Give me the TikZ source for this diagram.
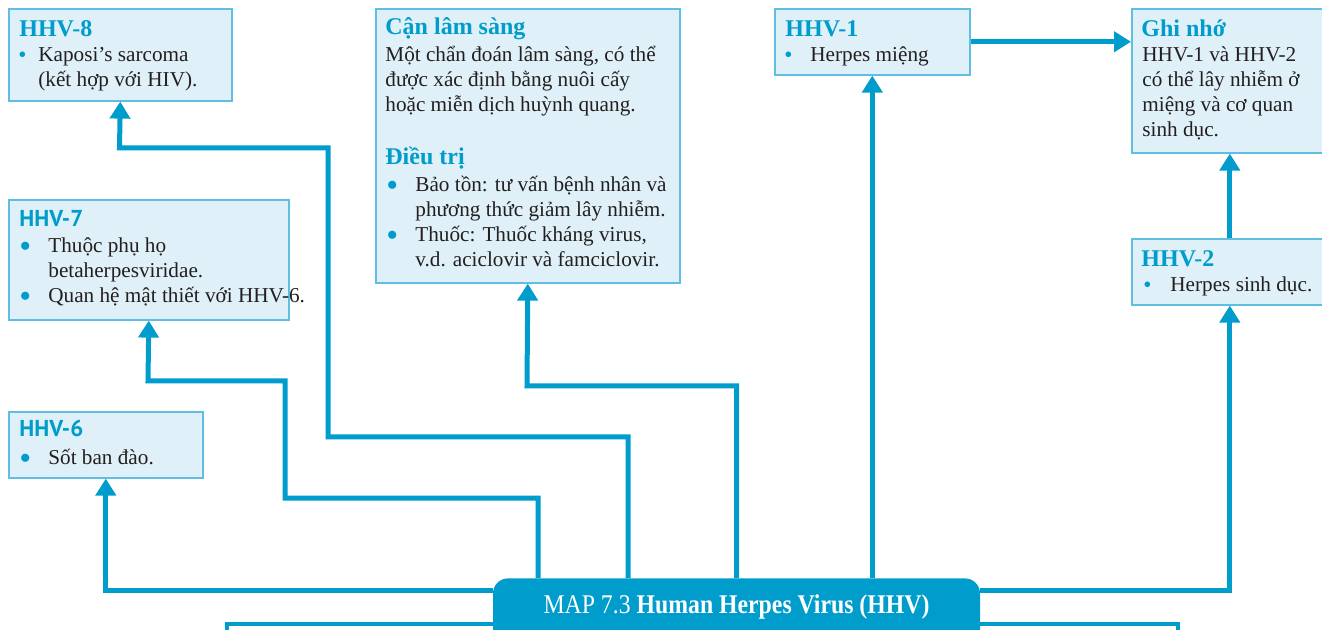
\documentclass[tikz,border=0pt]{standalone}
\usepackage{fontspec}
\setmainfont{Liberation Serif}
\newfontfamily\hhvsans{PT Sans}
\usetikzlibrary{arrows.meta,calc}
\definecolor{hhvblue}{RGB}{0,157,204}
\definecolor{hhvfill}{RGB}{223,240,248}
\definecolor{hhvedge}{RGB}{95,190,225}
\definecolor{hhvink}{RGB}{35,31,32}
\newcommand{\bul}[1]{\llap{\makebox[0pt]{\raisebox{-2.2pt}{\scalebox{1.6}{\textcolor{hhvblue}{•}}}}\hspace{#1}}}
\newcommand{\sbul}[1]{\llap{\makebox[0pt]{\raisebox{-0.3pt}{\scalebox{1.1}{\textcolor{hhvblue}{•}}}}\hspace{#1}}}

\begin{document}
\begin{tikzpicture}[x=0.5pt,y=-0.5pt,
  box/.style={draw=hhvedge,fill=hhvfill,line width=0.8pt,anchor=north west,inner sep=0pt},
  ttl/.style={anchor=base west,inner sep=0pt,text=hhvblue,font=\fontsize{12}{14}\selectfont\bfseries},
  sttl/.style={ttl,font=\fontsize{11.5}{14}\selectfont\hhvsans\bfseries},
  txt/.style={anchor=base west,inner sep=0pt,align=left,text=hhvink,font=\fontsize{10.6}{12.5}\selectfont},
  banner/.style={anchor=north,fill=hhvblue,rounded corners=7.5pt,minimum width=243.5pt,minimum height=34pt,
    text height=9pt,text depth=8pt,text=white,font=\fontsize{13.5}{15}\selectfont},
  panel/.style={draw=hhvblue,line width=2pt,anchor=north west,inner sep=0pt},
  link/.style={draw=hhvblue,line width=2.5pt,-{Triangle[length=8.5pt,width=10pt]}}]
  \useasboundingbox (0,0) rectangle (1322,630);
  \clip (0,0) rectangle (1322,630);

  \node[box,minimum width=111.5pt,minimum height=46pt] (hhv8) at (8,8) {};
  \node[ttl] (hhv8t) at (19,37) {HHV-8};
  \node[txt] (hhv8b) at (38,87) {\sbul{8pt}Kaposi’s sarcoma\\(kết hợp với HIV).};

  \node[box,minimum width=152pt,minimum height=137pt] (clin) at (375,8) {};
  \node[ttl] (clint) at (385,35) {Cận lâm sàng};
  \node[txt] (clinb) at (385,112) {Một chẩn đoán lâm sàng, có thể\\được xác định bằng nuôi cấy\\hoặc miễn dịch huỳnh quang.};
  \node[ttl] (treatt) at (385,165) {Điều trị};
  \node[txt] (treatb) at (415,267) {\bul{11.5pt}Bảo tồn: tư vấn bệnh nhân và\\phương thức giảm lây nhiễm.\\\bul{11.5pt}Thuốc: Thuốc kháng virus,\\v.d. aciclovir và famciclovir.};

  \node[box,minimum width=97.5pt,minimum height=33pt] (hhv1) at (774,8) {};
  \node[ttl] (hhv1t) at (785,37) {HHV-1};
  \node[txt] (hhv1b) at (810,62) {\sbul{11pt}Herpes miệng};

  \node[box,minimum width=98pt,minimum height=72pt] (note) at (1131,8) {};
  \node[ttl] (notet) at (1141,37) {Ghi nhớ};
  \node[txt] (noteb) at (1142,137) {HHV-1 và HHV-2\\có thể lây nhiễm ở\\miệng và cơ quan\\sinh dục.};

  \node[box,minimum width=140pt,minimum height=60pt] (hhv7) at (8,199) {};
  \node[sttl] (hhv7t) at (19,227) {HHV-7};
  \node[txt] (hhv7b) at (48,303) {\bul{11.5pt}Thuộc phụ họ\\betaherpesviridae.\\\bul{11.5pt}Quan hệ mật thiết với HHV-6.};

  \node[box,minimum width=98pt,minimum height=33pt] (hhv2) at (1131,238) {};
  \node[ttl] (hhv2t) at (1141,267) {HHV-2};
  \node[txt] (hhv2b) at (1170,292) {\sbul{11.5pt}Herpes sinh dục.};

  \node[box,minimum width=97pt,minimum height=33pt] (hhv6) at (8,411) {};
  \node[sttl] (hhv6t) at (19,437) {HHV-6};
  \node[txt] (hhv6b) at (48,465) {\bul{11.5pt}Sốt ban đào.};

  \node[panel,minimum width=475.5pt,minimum height=40pt] (next) at (225,622) {};
  \node[banner] (banner) at (736.5,578) {\scalebox{0.88}[1]{MAP 7.3 \textbf{Human Herpes Virus (HHV)}}};
  \coordinate (mid) at (0,590);

  \draw[link] (banner.west |- mid) -| (hhv6.south);
  \draw[link] (banner.east |- mid) -| (hhv2.south);
  \draw[link] ($(banner.north)+(-198.5,0)$) |- (285,498) |- (148,381) -- (hhv7.south);
  \draw[link] ($(banner.north)+(-108.5,0)$) |- (328,437) |- (119.5,148) -- (hhv8.south);
  \draw[link] (banner.north) |- (527,386) -- (clin.south);
  \draw[link] (hhv1.south |- banner.north) -- (hhv1.south);
  \draw[link] (hhv1.east) -- (note.west |- hhv1.east);
  \draw[link] (hhv2.north) -- (note.south);
\end{tikzpicture}
\end{document}
